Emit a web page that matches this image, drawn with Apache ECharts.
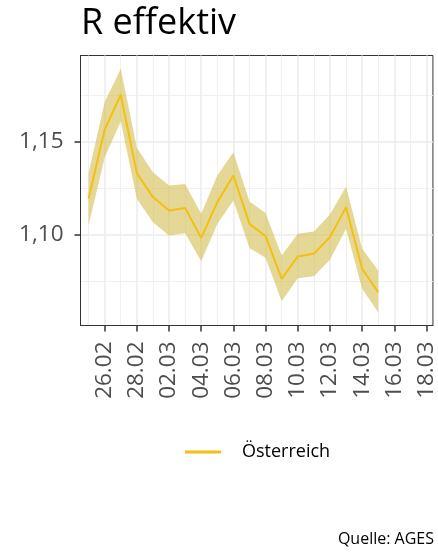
<!DOCTYPE html>
<html><head><meta charset="utf-8">
<script src="https://cdn.jsdelivr.net/npm/echarts@6/dist/echarts.min.js"></script>
<style>html,body{margin:0;padding:0;background:#fff}#c{width:438px;height:557px}</style>
</head><body><div id="c"></div>
<script>
const dates = ["25.02","26.02","27.02","28.02","01.03","02.03","03.03","04.03","05.03","06.03","07.03","08.03","09.03","10.03","11.03","12.03","13.03","14.03","15.03"];
const rValues = [1.1192,1.1563,1.1751,1.1330,1.1201,1.1129,1.1143,1.0982,1.1174,1.1317,1.1057,1.0991,1.0762,1.0882,1.0896,1.0986,1.1147,1.0816,1.0690];
const rUpper  = [1.1330,1.1711,1.1891,1.1466,1.1335,1.1263,1.1272,1.1111,1.1317,1.1442,1.1177,1.1115,1.0887,1.1004,1.1016,1.1108,1.1258,1.0923,1.0806];
const rLower  = [1.1048,1.1412,1.1609,1.1192,1.1066,1.0995,1.1007,1.0856,1.1057,1.1183,1.0928,1.0875,1.0641,1.0765,1.0776,1.0864,1.1031,1.0708,1.0582];
const xTickLabels = ["26.02","28.02","02.03","04.03","06.03","08.03","10.03","12.03","14.03","16.03","18.03"];
const xMinorGrid = ["25.02","27.02","01.03","03.03","05.03","07.03","09.03","11.03","13.03","15.03","17.03"];
const yTickValues = [1.10, 1.15];
const yMinorGrid = [1.075, 1.125, 1.175];
const seriesName = "Österreich";
const title = "R effektiv";
const source = "Quelle: AGES";

const YEAR = 2021;
const base = Date.UTC(YEAR, 1, 24);
function dayIdx(s){ const [d,m] = s.split('.').map(Number); return Math.round((Date.UTC(YEAR, m-1, d) - base)/864e5); }
const labelByIdx = {};
xTickLabels.forEach(s => labelByIdx[dayIdx(s)] = s);

const xMin = 0.5, xMax = 22.4;
const yMin = 1.0511, yMax = 1.1962;

const fontFam = '"Open Sans", "Noto Sans", sans-serif';
const majorGrid = {show:true, lineStyle:{color:'#EBEBEB', width:1.5}};
const minorGridStyle = {show:true, lineStyle:{color:'#F0F0F0', width:1}};
const frameLine = {show:true, onZero:false, lineStyle:{color:'#333', width:1}};

const bandData = dates.map((d,i)=>[dayIdx(d), rLower[i], rUpper[i]]);

const chart = echarts.init(document.getElementById('c'), null, {renderer:'canvas'});
chart.setOption({
  animation:false,
  backgroundColor:'#fff',
  title:{text:title, left:81, top:6, padding:0, textStyle:{fontFamily:fontFam, fontSize:36, fontWeight:'normal', color:'#000'}},
  grid:{left:80.5, top:55.5, right:3.5, bottom:231.5, show:true, borderColor:'#333', borderWidth:1, backgroundColor:'transparent'},
  legend:{data:[seriesName], left:185, top:443, padding:0, icon:'rect', itemWidth:36, itemHeight:3, itemGap:10,
          textStyle:{fontFamily:fontFam, fontSize:18, color:'#000', padding:[0,0,0,16]}},
  xAxis:[
    {type:'value', min:xMin, max:xMax, position:'bottom',
     axisLine:frameLine,
     axisTick:{show:true, length:6, lineStyle:{color:'#333', width:1.5}, customValues: xTickLabels.map(dayIdx)},
     axisLabel:{show:true, rotate:90, margin:16, fontFamily:fontFam, fontSize:22.5, color:'#4D4D4D',
                customValues: xTickLabels.map(dayIdx), formatter: v => labelByIdx[Math.round(v)] || ''},
     splitLine:majorGrid},
    {type:'value', min:xMin, max:xMax, position:'top',
     axisLine:{show:false}, axisTick:{show:false, customValues: xMinorGrid.map(dayIdx)},
     axisLabel:{show:false, customValues: xMinorGrid.map(dayIdx)}, splitLine:minorGridStyle}
  ],
  yAxis:[
    {type:'value', min:yMin, max:yMax, position:'left',
     axisLine:frameLine,
     axisTick:{show:true, length:6, lineStyle:{color:'#333', width:1.5}, customValues: yTickValues},
     axisLabel:{show:true, margin:17, fontFamily:fontFam, fontSize:22.5, color:'#4D4D4D', customValues: yTickValues,
                formatter: v => v.toFixed(2).replace('.', ',')},
     splitLine:majorGrid},
    {type:'value', min:yMin, max:yMax, position:'right',
     axisLine:{show:false}, axisTick:{show:false, customValues: yMinorGrid},
     axisLabel:{show:false, customValues: yMinorGrid}, splitLine:minorGridStyle}
  ],
  series:[
    {name:'band', type:'custom', silent:true, z:2, data: bandData,
     encode:{x:0, y:[1,2]},
     renderItem: function(params, api){
       if (params.dataIndex !== 0) return null;
       const up = bandData.map(p => api.coord([p[0], p[2]]));
       const lo = bandData.map(p => api.coord([p[0], p[1]])).reverse();
       return {type:'polygon', shape:{points: up.concat(lo)}, style:{fill:'rgba(212,190,80,0.6)', stroke:'none'}};
     }},
    {name:seriesName, type:'line', symbol:'none', color:'#F2C010', data: dates.map((d,i)=>[dayIdx(d), rValues[i]]),
     lineStyle:{color:'#F2C010', width:2}, z:3}
  ],
  graphic:[{type:'text', right:4, top:531, style:{text:source, fontFamily:fontFam, fontSize:16, fill:'#000'}}]
});
</script></body></html>
